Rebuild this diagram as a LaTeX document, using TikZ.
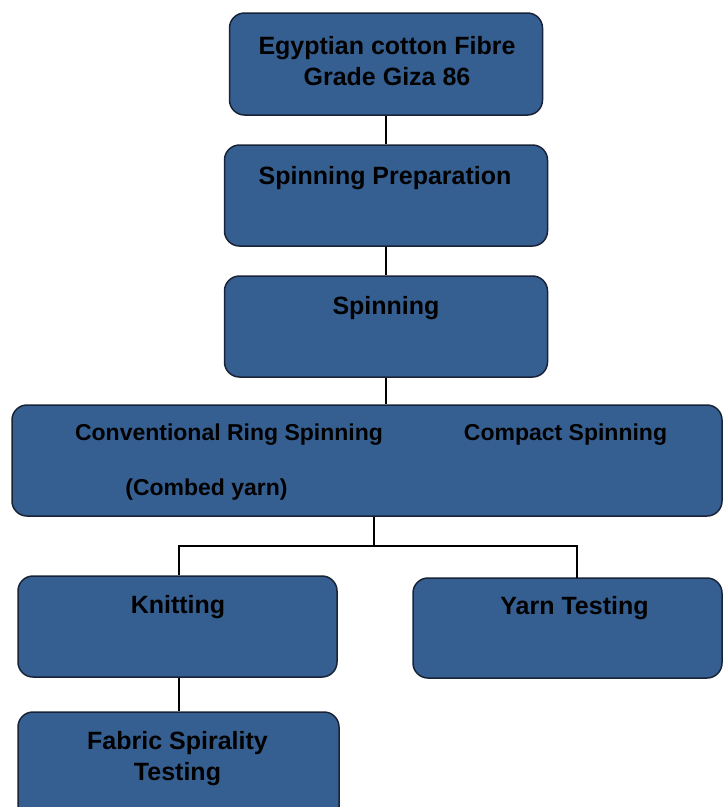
\documentclass[tikz,border=0pt]{standalone}
\usepackage{fontspec}
\setmainfont{Liberation Sans}
\usepackage{tikz}
\definecolor{boxblue}{RGB}{54,95,145}
\definecolor{boxline}{RGB}{25,35,55}
\tikzset{
  stage/.style={draw=boxline,line width=1.5pt,fill=boxblue,rounded corners=15pt,inner sep=0pt},
  caption/.style={font=\fontsize{25}{31}\selectfont\bfseries,text=black,align=center,inner sep=0pt},
  smallcaption/.style={caption,font=\fontsize{23}{31}\selectfont\bfseries},
  link/.style={draw=black,line width=1.2pt}
}
\begin{document}
\begin{tikzpicture}[x=1pt,y=-1pt]
\useasboundingbox (0,0) rectangle (723,807);
\clip (0,0) rectangle (723,807);
\node[stage,minimum width=313pt,minimum height=102pt] (fibre) at (386,64){};
\node[stage,minimum width=323pt,minimum height=101pt] (prep) at (386,195.5){};
\node[stage,minimum width=323pt,minimum height=101pt] (spin) at (386,326.5){};
\node[stage,minimum width=710pt,minimum height=111pt] (wide) at (367,460.5){};
\node[stage,minimum width=319pt,minimum height=101pt] (knit) at (177.5,626.5){};
\node[stage,minimum width=309pt,minimum height=100pt] (yarn) at (567.5,628){};
\node[stage,minimum width=321pt,minimum height=110pt] (fabric) at (178.5,767){};
\node[caption] (fibreT) at (387,61){Egyptian cotton Fibre\\Grade Giza 86};
\node[caption] (prepT) at (385,178){Spinning Preparation};
\node[caption] (spinT) at (386,308){Spinning};
\node[smallcaption] (ringT) at (229,435){Conventional Ring Spinning};
\node[smallcaption] (compactT) at (565.5,435){Compact Spinning};
\node[smallcaption] (combedT) at (206.5,490){(Combed yarn)};
\node[caption] (knitT) at (178,607){Knitting};
\node[caption] (yarnT) at (574.5,608){Yarn Testing};
\node[caption] (fabricT) at (177.5,759){Fabric Spirality\\Testing};
\coordinate (split) at (374,546);
\coordinate (yarnIn) at (577,578);
\draw[link] (fibre.south) -- (prep.north);
\draw[link] (prep.south) -- (spin.north);
\draw[link] (spin.south) -- (spin.south |- wide.north);
\draw[link] (wide.south -| split) -- (split);
\draw[link] ([xshift=1.5pt]knit.north) |- (split) -| (yarnIn);
\draw[link] ([xshift=1.5pt]knit.south) -- ([xshift=1.5pt]knit.south |- fabric.north);
\end{tikzpicture}
\end{document}
